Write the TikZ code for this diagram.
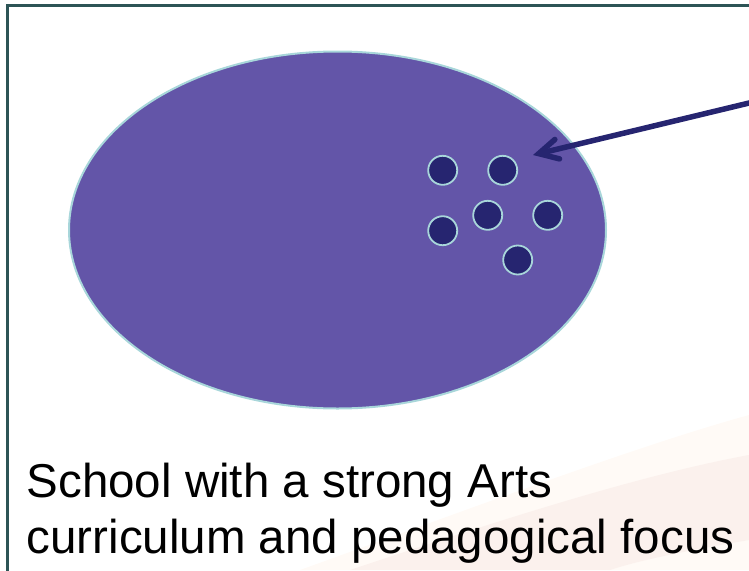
\documentclass[tikz,border=0pt]{standalone}
\usepackage{fontspec}
\setmainfont{Liberation Sans}
\usepackage{xcolor}
\usepackage{tikz}
\usetikzlibrary{arrows.meta}
\usetikzlibrary{shapes.geometric}
\definecolor{schoolpurple}{RGB}{99,85,168}
\definecolor{pupilnavy}{RGB}{38,37,112}
\definecolor{rimcyan}{RGB}{168,214,218}
\definecolor{frameteal}{RGB}{45,84,86}
\definecolor{swooshcream}{RGB}{255,250,246}
\definecolor{swooshpink}{RGB}{251,241,237}
\tikzset{
    school_node/.style = {ellipse, draw=rimcyan, fill=schoolpurple, line width=2pt, inner sep=0pt, minimum width=537pt, minimum height=357pt},
    pupil_node/.style = {circle, draw=rimcyan, fill=pupilnavy, line width=1.8pt, inner sep=0pt, minimum size=29pt},
    caption_node/.style = {align=left, inner sep=0pt, font=\fontsize{47.5}{56}\selectfont},
    pointer/.style = {-{Straight Barb[length=19pt, width=20pt, line cap=round]}, draw=pupilnavy, line width=5.5pt, line cap=round}
}
\begin{document}
\begin{tikzpicture}
            [x=1pt, y=-1pt]

            \useasboundingbox (0,0) rectangle (749,570);
            \fill[swooshcream] (300,570) .. controls (480,505) and (640,445) .. (749,415) -- (749,570) -- cycle;
            \fill[swooshpink] (350,570) .. controls (500,520) and (640,475) .. (749,455) -- (749,540) .. controls (690,550) and (640,560) .. (610,570) -- cycle;
            \draw[frameteal, line width=3pt] (760,5.5) -- (7,5.5) -- (7,580);

            \node [school_node] (school) at (337.5,230) {};

            \node [pupil_node] (pupil1) at (442.7,170.3) {};
            \node [pupil_node] (pupil2) at (502.7,170.3) {};
            \node [pupil_node] (pupil3) at (487.7,215.3) {};
            \node [pupil_node] (pupil4) at (547.7,215.3) {};
            \node [pupil_node] (pupil5) at (442.7,230.7) {};
            \node [pupil_node] (pupil6) at (517.7,260) {};

            \coordinate (source) at (762,99.9);
            \coordinate (target) at (533,155);
            \draw [pointer] (source) -- (target);

            \node [caption_node, anchor=base west] (caption) at (26.5,553)
                {School with a strong Arts\\curriculum and pedagogical focus};
        \end{tikzpicture}
\end{document}
